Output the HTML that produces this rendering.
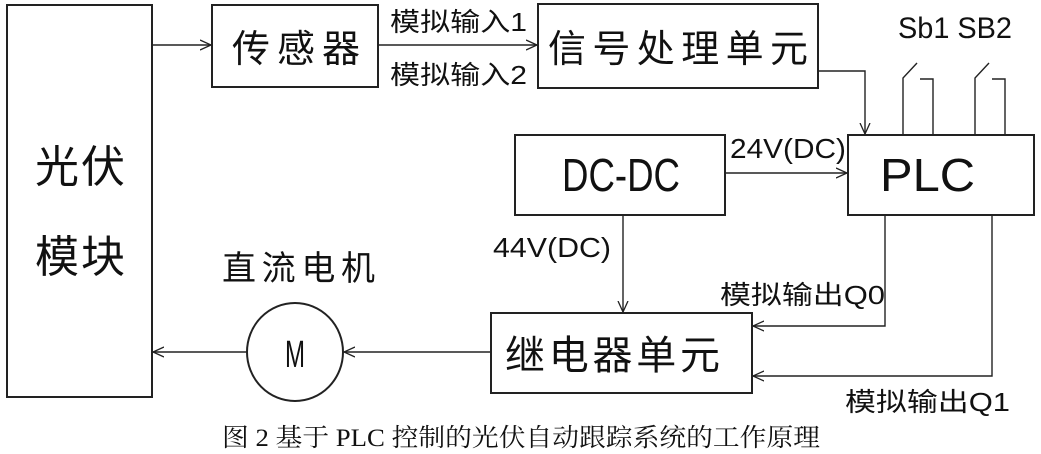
<!DOCTYPE html>
<html><head><meta charset="utf-8"><style>
html,body{margin:0;padding:0;background:#fff;}
svg{display:block;}
text{font-family:"Liberation Sans","Noto Sans CJK SC",sans-serif;fill:#111;}
</style></head><body>
<svg width="1041" height="454" viewBox="0 0 1041 454" xmlns="http://www.w3.org/2000/svg">
<defs><marker id="a" markerWidth="12" markerHeight="12" refX="11" refY="6" orient="auto" markerUnits="userSpaceOnUse"><path d="M0,1 L11,6 L0,11" fill="none" stroke="#222" stroke-width="1.3"/></marker></defs>
<g fill="none" stroke="#222" stroke-width="2">
<rect x="7" y="5" width="145" height="392"/>
<rect x="212" y="5" width="166" height="82"/>
<rect x="538" y="4" width="280" height="84"/>
<rect x="848" y="135" width="186" height="80"/>
<rect x="515" y="135" width="210" height="80"/>
<rect x="491" y="313" width="261" height="80"/>
<ellipse cx="295" cy="352" rx="48" ry="49"/>
</g>
<g fill="none" stroke="#222" stroke-width="1.4">
<line x1="152" y1="45" x2="211" y2="45" marker-end="url(#a)"/>
<line x1="378" y1="45" x2="537" y2="45" marker-end="url(#a)"/>
<polyline points="818,71 865,71 865,134" marker-end="url(#a)"/>
<line x1="725" y1="173" x2="847" y2="173" marker-end="url(#a)"/>
<line x1="623" y1="215" x2="623" y2="312" marker-end="url(#a)"/>
<polyline points="885,215 885,326 753,326" marker-end="url(#a)"/>
<polyline points="992,215 992,376 753,376" marker-end="url(#a)"/>
<line x1="491" y1="352" x2="344" y2="352" marker-end="url(#a)"/>
<line x1="247" y1="352" x2="153" y2="352" marker-end="url(#a)"/>
<polyline points="903,135 903,78 917,63"/>
<polyline points="920,79 933,79 933,135"/>
<polyline points="975,135 975,78 989,63"/>
<polyline points="992,79 1005,79 1005,135"/>
</g>
<text x="35" y="182" font-size="44" textLength="90">光伏</text>
<text x="35" y="272" font-size="44" textLength="90">模块</text>
<text x="232" y="62" font-size="38" textLength="128">传感器</text>
<text x="548" y="62" font-size="38" textLength="260">信号处理单元</text>
<text x="390" y="31" font-size="26" textLength="137" lengthAdjust="spacingAndGlyphs">模拟输入1</text>
<text x="390" y="84" font-size="26" textLength="137" lengthAdjust="spacingAndGlyphs">模拟输入2</text>
<text x="880" y="191" font-size="46" textLength="95" lengthAdjust="spacingAndGlyphs">PLC</text>
<text x="562" y="191" font-size="46" textLength="118" lengthAdjust="spacingAndGlyphs">DC-DC</text>
<text x="898" y="38" font-size="30" textLength="114" lengthAdjust="spacingAndGlyphs">Sb1 SB2</text>
<text x="730" y="158" font-size="28" textLength="116" lengthAdjust="spacingAndGlyphs">24V(DC)</text>
<text x="493" y="257" font-size="28" textLength="118" lengthAdjust="spacingAndGlyphs">44V(DC)</text>
<text x="222" y="280" font-size="34" textLength="153">直流电机</text>
<text x="295" y="367" font-size="38" text-anchor="middle" textLength="20" lengthAdjust="spacingAndGlyphs">M</text>
<text x="505" y="369" font-size="40" textLength="215">继电器单元</text>
<text x="720" y="304" font-size="26" textLength="165" lengthAdjust="spacingAndGlyphs">模拟输出Q0</text>
<text x="845" y="411" font-size="26" textLength="165" lengthAdjust="spacingAndGlyphs">模拟输出Q1</text>
<text x="222" y="446" font-size="25" textLength="598" lengthAdjust="spacingAndGlyphs" style="font-family:'Liberation Serif','Noto Serif CJK SC',serif">图 2 基于 PLC 控制的光伏自动跟踪系统的工作原理</text>
</svg>
</body></html>
